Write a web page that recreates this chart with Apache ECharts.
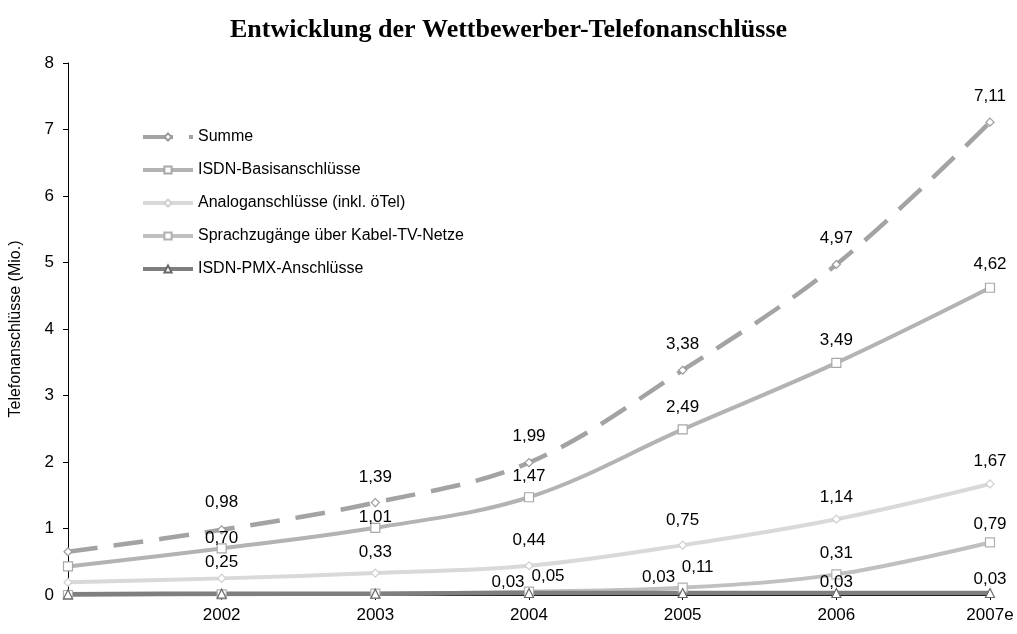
<!DOCTYPE html>
<html>
<head>
<meta charset="utf-8">
<script src="https://cdn.jsdelivr.net/npm/echarts@6/dist/echarts.min.js"></script>
<style>
  html, body { margin: 0; padding: 0; background: #fff; }
  #chart { width: 1017px; height: 634px; }
</style>
</head>
<body>
<div id="chart"></div>
<script>
// Kategorien (erster Punkt ohne Beschriftung)
var years = ['', '2002', '2003', '2004', '2005', '2006', '2007e']

// Werte in Mio.
var summe = [0.65, 0.98, 1.39, 1.99, 3.38, 4.97, 7.11]
var isdnBasis = [0.43, 0.70, 1.01, 1.47, 2.49, 3.49, 4.62]
var analog = [0.19, 0.25, 0.33, 0.44, 0.75, 1.14, 1.67]
var kabel = [0.00, 0.01, 0.02, 0.05, 0.11, 0.31, 0.79]
var pmx = [0.01, 0.02, 0.02, 0.03, 0.03, 0.03, 0.03]

var seriesNames = [
    'Summe',
    'ISDN-Basisanschlüsse',
    'Analoganschlüsse (inkl. öTel)',
    'Sprachzugänge über Kabel-TV-Netze',
    'ISDN-PMX-Anschlüsse'
]

// Beschriftungs-Versatz je Punkt [dx, dy], null = keine Beschriftung
var labelPos = {
    summe: [null, [0, -28], [0, -25], [0, -26], [0, -26], [0, -26], [0, -26]],
    isdn: [null, [0, -10], [0, -11], [0, -21], [0, -22], [0, -23], [0, -23]],
    analog: [null, [0, -16], [0, -21], [0, -25], [0, -25], [0, -22], [0, -23]],
    kabel: [null, null, null, [19, -15], [15, -20], [0, -21], [0, -18]],
    pmx: [null, null, null, [-21, -11], [-24, -16], [0, -11], [0, -14]]
}

function fmt(v) {
    return v.toFixed(2).replace('.', ',')
}

function buildData(values, pos) {
    return values.map(function(v, i) {
        var p = pos[i]
        if (!p) {
            return { value: v, label: { show: false } }
        }
        return { value: v, label: { show: true, offset: p } }
    })
}

function lineSeries(name, values, pos, color, symbol, size, lineType, width, border) {
    return {
        name: name,
        type: 'line',
        smooth: 0.35,
        symbol: symbol,
        symbolSize: size,
        showAllSymbol: true,
        lineStyle: { color: color, width: width, type: lineType },
        itemStyle: { color: '#fff', borderColor: border || color, borderWidth: 1.2 },
        emphasis: { disabled: true },
        label: {
            position: 'inside',
            color: '#000',
            fontSize: 17,
            fontFamily: 'Liberation Sans, Arial, sans-serif',
            formatter: function(p) { return fmt(p.value) }
        },
        data: buildData(values, pos)
    }
}

var myChart = echarts.init(document.getElementById('chart'))
var option = {
    animation: false,
    backgroundColor: '#fff',
    title: {
        text: 'Entwicklung der Wettbewerber-Telefonanschlüsse',
        left: 'center',
        top: 12,
        textStyle: {
            fontFamily: 'Liberation Serif, Times New Roman, serif',
            fontWeight: 'bold',
            fontSize: 26,
            color: '#000'
        }
    },
    legend: {
        orient: 'vertical',
        left: 136,
        top: 124,
        itemWidth: 50,
        itemHeight: 9,
        itemGap: 17,
        lineStyle: { width: 4 },
        textStyle: {
            fontFamily: 'Liberation Sans, Arial, sans-serif',
            fontSize: 16,
            color: '#000'
        },
        data: seriesNames
    },
    grid: {
        left: 67,
        right: 27,
        top: 63,
        bottom: 39
    },
    xAxis: {
        type: 'category',
        boundaryGap: false,
        data: years,
        axisLine: { lineStyle: { color: '#000', width: 1 } },
        axisTick: { show: true, alignWithLabel: true, length: 5, lineStyle: { color: '#000' } },
        axisLabel: {
            color: '#000',
            fontSize: 17,
            margin: 12,
            fontFamily: 'Liberation Sans, Arial, sans-serif',
            showMaxLabel: true
        },
        splitLine: { show: false }
    },
    yAxis: {
        type: 'value',
        min: 0,
        max: 8,
        interval: 1,
        name: 'Telefonanschlüsse (Mio.)',
        nameLocation: 'middle',
        nameGap: 44,
        nameTextStyle: {
            fontFamily: 'Liberation Sans, Arial, sans-serif',
            fontSize: 16,
            color: '#000'
        },
        axisLine: { show: true, lineStyle: { color: '#000', width: 1 } },
        axisTick: { show: true, length: 5, lineStyle: { color: '#000' } },
        axisLabel: {
            color: '#000',
            fontSize: 17,
            margin: 14,
            fontFamily: 'Liberation Sans, Arial, sans-serif'
        },
        splitLine: { show: false }
    },
    series: [
        lineSeries(seriesNames[0], summe, labelPos.summe, '#a3a3a3', 'diamond', 8, [30, 16], 4.5, '#9a9a9a'),
        lineSeries(seriesNames[1], isdnBasis, labelPos.isdn, '#b3b3b3', 'rect', 9, 'solid', 4, '#a8a8a8'),
        lineSeries(seriesNames[2], analog, labelPos.analog, '#d9d9d9', 'diamond', 8, 'solid', 4, '#cfcfcf'),
        lineSeries(seriesNames[3], kabel, labelPos.kabel, '#c0c0c0', 'rect', 9, 'solid', 4, '#b0b0b0'),
        lineSeries(seriesNames[4], pmx, labelPos.pmx, '#7f7f7f', 'triangle', 9, 'solid', 4.5, '#6a6a6a')
    ]
}
myChart.setOption(option)
</script>
</body>
</html>
